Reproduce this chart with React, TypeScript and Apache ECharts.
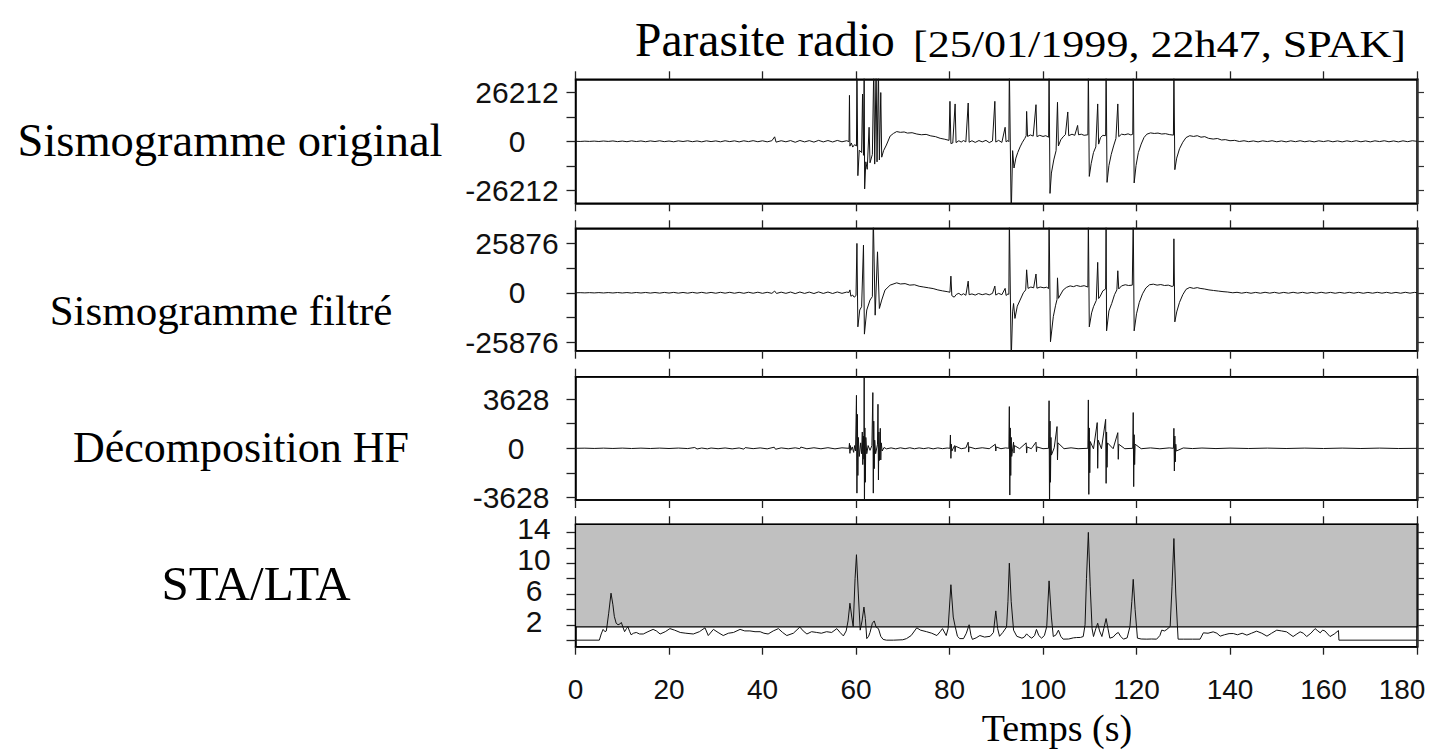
import React, { useEffect, useRef } from "react";
import * as echarts from "echarts";

// ---------- DATA ----------
const timeTicks = [0, 20, 40, 60, 80, 100, 120, 140, 160, 180];

const panelNames = ["Sismogramme original", "Sismogramme filtré", "Décomposition HF", "STA/LTA"];

const originalLabels = [-26212, 0, 26212];
const originalTicks = [-26212, -13106, 0, 13106, 26212];
const filteredLabels = [-25876, 0, 25876];
const filteredTicks = [-25876, -12938, 0, 12938, 25876];
const hfLabels = [-3628, 0, 3628];
const hfTicks = [-3628, -1814, 0, 1814, 3628];
const staLabels = [2, 6, 10, 14];
const staTicks = [0, 2, 4, 6, 8, 10, 12, 14];

const staThreshold = 1.73;
const staTop = 15.05;

// [time (s), amplitude]
const originalTrace: [number, number][] = [
  [0, 0], [1, -90], [2, 70], [3, -60], [4, 110], [5, -100], [6, 160], [7, -70], [8, 190], [9, -170],
  [10, 130], [11, -210], [12, 240], [13, -140], [14, 190], [15, -230], [16, 210], [17, -130], [18, 280], [19, -190],
  [20, 160], [21, -250], [22, 230], [23, -110], [24, 270], [25, -210], [26, 170], [27, -290], [28, 250], [29, -150],
  [30, 210], [31, -270], [32, 290], [33, -170], [34, 250], [35, -310], [36, 270], [37, -170], [38, 330], [39, -230],
  [40, 270], [41, -290], [42, 310], [42.6, 2400], [42.9, -450], [44, 310], [45, -260], [46, 390], [47, -520], [48, 440],
  [49, -310], [50, 360], [51, -430], [52, 480], [53, -320], [54, 410], [55, -360], [56, 460], [57, -260], [58, 310], [58.5, -150],
  [58.6, 24600], [58.7, -2600], [59.0, -900], [59.3, -3100], [59.7, -1800], [60.1, -2500], [60.2, 40000], [60.4, -18400],
  [60.7, -4800], [61.2, -6000], [61.4, 25300], [61.6, -7500], [61.75, 40000], [61.85, -25500], [62.1, -11000], [62.4, -15000],
  [62.8, 7500], [63.0, -11500], [63.5, -7000], [63.8, 40000], [64.0, -12200], [64.3, 40000], [64.5, -11000], [64.8, 40000],
  [65.0, -10000], [65.3, 26100], [65.5, -8500], [65.9, -5000], [66.5, -2000], [67.3, 2800], [68, 4200], [68.7, 5200],
  [69.5, 4800], [70.3, 5000], [71, 4400], [72, 4600], [73, 3900], [74, 3500], [75, 3700], [76, 2900], [77, 2500],
  [78, 1600], [79, 1100], [79.9, 500],
  [80.1, 21400], [80.3, -1200], [80.7, -900], [81.2, 20000], [81.4, -700], [82, 300], [82.5, -400], [83, 400], [83.5, -300],
  [84.0, 20500], [84.2, -500], [84.8, 300], [85.5, -600], [86.3, 400], [87, -300], [87.8, 500], [88.5, -700], [89.2, 200],
  [89.7, 21400], [89.9, -400], [90.5, 500], [91.2, -600], [91.9, 7500], [92.1, -300], [92.5, 400], [92.7, -200],
  [92.8, 40000], [93.2, -40000], [93.5, -5000], [93.8, -14300], [94.2, -9000], [94.6, -6000], [95.1, -3000], [95.6, -500],
  [96.1, 1500], [96.4, 3000], [96.5, 16000], [96.7, 2600], [97.3, 3400], [97.9, 2800], [98.5, 19600], [98.7, 2500],
  [99.3, 3200], [100, 2600], [100.6, 3000], [101.2, 2200],
  [101.3, 40000], [101.5, -27900], [101.8, -17000], [102.3, -10000], [102.8, -5000], [103.1, 20900], [103.3, -2500],
  [103.8, 800], [104.3, 2400], [104.8, 3600], [105.3, 15700], [105.5, 3000], [106.2, 3800], [106.8, 3200], [107.4, 8500],
  [107.6, 3500], [108.2, 3800], [108.8, 3200], [109.6, 3500],
  [109.7, 40000], [109.9, -18800], [110.3, -12000], [110.8, -6000], [111.3, -3000], [111.7, 20000], [111.9, -1500],
  [112.3, 2000], [112.8, 3200], [113.4, 3000],
  [113.5, 40000], [113.7, -22000], [114.1, -13000], [114.6, -7000], [115.1, -2500], [115.6, 1500], [116.0, 20000],
  [116.2, 2500], [116.8, 3800], [117.5, 3500], [118.2, 4000], [118.8, 3400], [119.2, 3800],
  [119.3, 40000], [119.5, -22300], [119.9, -13000], [120.4, -6000], [121, -1500], [121.6, 2000], [122.2, 3800], [123, 4500],
  [123.8, 4200], [124.6, 4400], [125.4, 3900], [126.2, 4100], [127, 3600], [127.9, 3300],
  [128.0, 40000], [128.2, -15200], [128.6, -9000], [129.2, -4000], [129.9, -500], [130.6, 2000], [131.4, 3000], [132.2, 2600],
  [133, 3000], [133.8, 2200], [134.6, 2500], [135.4, 1600], [136.4, 1200], [137.3, 1500], [138.2, 700], [139, 900],
  [140, 300], [141, 500], [142, -100], [143, 300], [144, -200], [145, 200], [146, -300], [147, 250], [148, -150],
  [149, 300], [150, -250], [151, 200], [152, -300], [153, 250], [154, -200], [155, 300], [156, -250], [157, 200],
  [158, -300], [159, 250], [160, -150], [161, 300], [162, -250], [163, 200], [164, -300], [165, 250], [166, -200],
  [167, 300], [168, -250], [169, 200], [170, -300], [171, 250], [172, -150], [173, 300], [174, -250], [175, 200],
  [176, -300], [177, 250], [178, -200], [179, 300], [180, 0],
];

const filteredTrace: [number, number][] = [
  [0, 0], [1, 60], [2, -50], [3, 80], [4, -70], [5, 100], [6, -90], [7, 120], [8, -100], [9, 140], [10, -110],
  [11, 130], [12, -150], [13, 160], [14, -120], [15, 170], [16, -160], [17, 140], [18, -180], [19, 190], [20, -150],
  [21, 200], [22, -190], [23, 170], [24, -210], [25, 220], [26, -180], [27, 230], [28, -220], [29, 200], [30, -240],
  [31, 250], [32, -210], [33, 260], [34, -250], [35, 230], [36, -270], [37, 280], [38, -240], [39, 290], [40, -280],
  [41, 260], [42, -300], [42.6, 900], [43, -350], [44, 320], [45, -300], [46, 380], [47, -420], [48, 400], [49, -330],
  [50, 360], [51, -400], [52, 450], [53, -350], [54, 400], [55, -380], [56, 420], [57, -300], [58, 350], [58.5, 200],
  [58.7, 1500], [58.9, -1800], [59.3, -1200], [59.6, -2300], [60.0, -1500], [60.2, 25800], [60.4, -17800], [60.8, -9000],
  [61.2, -7300], [61.6, 24900], [61.8, -21600], [62.3, -9000], [63.0, -3800], [63.5, -2000], [63.7, 40000], [64.1, -11700],
  [64.6, 21400], [65.0, -8200], [65.5, -3800], [66.2, 1400], [67.3, 4000], [68.7, 5200], [69.5, 4600], [70.5, 4800],
  [71.5, 4000], [72.5, 4200], [73.5, 3400], [74.5, 3000], [75.5, 2600], [76.5, 2200], [77.5, 1500], [78.5, 1000],
  [79.5, 600], [80.1, 300], [80.3, 8700], [80.5, -1500], [81.0, -2300], [81.5, -800], [82, -300], [82.5, -1200],
  [83, -500], [83.5, -1300], [84.0, 6100], [84.2, -1000], [84.8, -600], [85.5, -1200], [86.2, -400], [87, -1000],
  [87.8, -500], [88.5, -1100], [89.2, -300], [89.7, 3500], [89.9, -1200], [90.5, -300], [91.2, -1000], [91.9, 2300],
  [92.1, -1400], [92.5, -600], [92.7, -800],
  [92.8, 40000], [93.2, -35000], [93.5, -10000], [93.7, -5600], [94.0, -13400], [94.5, -7000], [95.1, -3800], [95.8, 0],
  [96.3, 1500], [96.5, 12000], [96.8, 2300], [97.4, 3000], [98, 2600], [98.5, 9800], [98.7, 2400], [99.4, 3000],
  [100.2, 2600], [100.8, 2900], [101.2, 2200],
  [101.3, 40000], [101.6, -25600], [102.2, -12500], [102.7, -6500], [103.0, -3500], [103.1, 7800], [103.3, -2900],
  [104.3, 1400], [105, 2800], [105.8, 3600], [106.5, 3200], [107.2, 3800], [108, 3300], [108.8, 3700], [109.6, 3000],
  [109.7, 40000], [109.9, -17800], [110.4, -10500], [110.8, -7300], [111.4, -4000], [111.7, 15900], [111.9, -3000],
  [112.2, -2000], [112.8, 1000], [113.4, 2000],
  [113.5, 40000], [113.6, -19900], [114.1, -9500], [114.7, -5600], [115.3, -1000], [115.8, 1500], [116.0, 11500],
  [116.2, 2000], [116.8, 3600], [117.6, 4200], [118.3, 3800], [119.1, 4000],
  [119.3, 40000], [119.5, -19900], [120, -11000], [120.6, -5000], [121.3, -500], [122, 2500], [122.8, 4200], [123.6, 4500],
  [124.4, 4000], [125.2, 4300], [126, 3800], [126.8, 4000], [127.6, 3300], [127.9, 3600],
  [128.0, 28200], [128.2, -15200], [128.6, -10000], [129.2, -5000], [129.9, -1000], [130.6, 1800], [131.4, 2800],
  [132.2, 2300], [133, 2700], [133.6, 2300], [134.5, 2000], [135.5, 1500], [136.5, 1200], [137.5, 900], [138.5, 600],
  [139.5, 400], [140.6, 0], [141.5, 250], [142.5, -200], [143.5, 220], [144.5, -250], [145.5, 200], [146.5, -230],
  [147.5, 260], [148.5, -200], [149.5, 240], [150.5, -260], [151.5, 200], [152.5, -220], [153.5, 250], [154.5, -200],
  [155.5, 230], [156.5, -250], [157.5, 210], [158.5, -240], [159.5, 260], [160.5, -200], [161.5, 220], [162.5, -250],
  [163.5, 200], [164.5, -230], [165.5, 250], [166.5, -210], [167.5, 240], [168.5, -260], [169.5, 200], [170.5, -220],
  [171.5, 250], [172.5, -200], [173.5, 230], [174.5, -250], [175.5, 210], [176.5, -240], [177.5, 260], [178.5, -200],
  [179.5, 220], [180, 0],
];

const hfTrace: [number, number][] = [
  [0, 0], [2, 10], [4, -10], [6, 12], [8, -12], [10, 15], [12, -15], [14, 12], [16, -15], [18, 15], [20, -15],
  [22, 18], [24, -20], [25.5, 60], [26, -50], [27, 20], [28.2, -40], [29, 20], [30.5, -30], [32, 25], [33.5, -40],
  [35, 25], [36, -60], [36.3, 50], [38, -25], [39.5, 30], [41, -40], [42.5, 80], [42.8, -70], [44, 30], [45.5, -35],
  [47, 35], [48, -30], [48.2, 90], [49.5, -35], [51, 40], [52.5, -35], [54, 45], [55.5, -40], [57, 35], [58.5, 0],
  [58.6, 370], [58.7, -370], [58.8, 200], [58.9, -150], [59.2, 100], [59.5, -300], [59.7, 200], [59.9, -200],
  [60.1, 3900], [60.2, -3300], [60.3, 2500], [60.4, -2000], [60.5, 800], [60.7, -600], [61.0, 400], [61.2, -400],
  [61.35, 1200], [61.45, -1200], [61.6, 900], [61.7, -800], [61.75, 6000], [61.8, -5000], [61.9, 1500], [62.0, -2500],
  [62.1, 800], [62.3, -400], [62.6, 200], [63.0, -150], [63.4, 200], [63.6, 4100], [63.7, -3300], [63.8, 2000],
  [63.9, -1500], [64.0, 600], [64.2, -400], [64.6, 300], [64.7, 3240], [64.8, -2330], [64.9, 1200], [65.0, -900],
  [65.2, 1470], [65.3, -860], [65.4, 400], [65.6, -200], [66, 60], [66.5, -40], [67.5, 30], [68.5, -40],
  [69.5, 35], [70.5, -30], [71.5, 40], [72.5, -35], [73.5, 30], [74.5, -25], [75.5, 35], [76.5, -40], [77.5, 30],
  [78.5, -25], [79.5, 20], [80.1, 0], [80.2, 980], [80.3, -740], [80.4, 300], [80.5, -200], [81.1, 200], [81.2, -250],
  [81.3, 150], [82.5, -30], [83.5, 30], [84.0, 450], [84.1, -280], [84.2, 100], [85.5, -30], [87, 40], [88.5, -30],
  [89.8, 300], [89.9, -200], [90, 100], [91, -30], [92, 30], [92.7, 0],
  [92.8, 3070], [92.9, -3440], [93.0, 1500], [93.1, -2000], [93.2, 800], [93.3, -600], [93.7, 450], [93.8, -350],
  [93.9, 200], [95, -30], [96.4, 400], [96.5, -350], [96.6, 100], [97.5, -30], [98.5, 450], [98.6, -250], [98.7, 100],
  [100, -30], [101.2, 0],
  [101.3, 3500], [101.4, -5000], [101.5, 2000], [101.6, -2500], [101.7, 800], [101.8, -500], [102.4, 40],
  [103.0, 1600], [103.1, -860], [103.2, 400], [104.5, -30], [106, 35], [107.5, -30], [109.6, 0],
  [109.7, 3560], [109.8, -3390], [109.9, 1500], [110.0, -1800], [110.1, 500], [110.8, -40], [111.6, 1890],
  [111.7, -1470], [111.8, 600], [112.5, -35], [113.4, 2130], [113.5, -2580], [113.6, 1200], [113.7, -1400],
  [113.8, 400], [115, -30], [116.0, 1150], [116.1, -810], [116.2, 300], [117.5, -30], [119.2, 0],
  [119.3, 2630], [119.4, -2820], [119.5, 1000], [119.6, -1200], [119.7, 300], [121, -30], [123, 30], [125, -35],
  [127, 30], [127.9, 0],
  [128.0, 1470], [128.1, -1670], [128.2, 900], [128.3, -1000], [128.4, 300], [128.5, -200], [130, 25], [132, -20],
  [134, 20], [137, -20], [140, 15], [144, -15], [148, 15], [152, -15], [156, 15], [160, -15], [164, 15], [168, -15],
  [172, 15], [176, -15], [180, 0],
];

const staLtaTrace: [number, number][] = [
  [0, 0], [5.1, 0], [5.5, 0.8], [5.9, 1.4], [6.3, 1.1], [6.6, 1.2], [7.1, 3.5], [7.6, 6.1], [8.0, 4.6], [8.3, 3.1],
  [8.7, 2.2], [9.1, 2.0], [9.5, 2.1], [9.8, 2.3], [10.2, 1.6], [10.5, 1.1], [10.9, 1.5], [11.2, 1.75], [11.6, 1.1],
  [11.9, 0.7], [12.4, 0.9], [13.0, 1.0], [13.7, 0.8], [14.5, 0.8], [15.5, 1.1], [16.6, 1.4], [17.3, 1.2], [18.1, 0.8],
  [19.2, 1.1], [20.2, 1.5], [21.2, 1.3], [22.4, 1.0], [23.6, 0.9], [25.2, 0.8], [26.5, 1.1], [27.7, 1.6], [28.4, 0.6],
  [29.5, 1.4], [30.5, 1.0], [31.6, 0.6], [32.7, 0.9], [33.8, 1.0], [35.2, 1.4], [36.2, 1.2], [37.3, 1.2], [38.4, 1.1],
  [39.5, 1.1], [40.3, 0.9], [41.2, 0.8], [42.3, 1.2], [43.4, 1.5], [44.3, 1.0], [45.2, 0.6], [46.6, 0.9], [48.0, 1.7],
  [48.7, 1.2], [49.5, 0.8], [50.5, 1.1], [51.6, 1.0], [52.6, 0.9], [53.7, 1.1], [54.8, 1.0], [55.9, 1.5], [56.6, 1.0],
  [57.3, 0.55], [57.9, 1.2], [58.3, 2.5], [58.7, 4.8], [59.1, 3.0], [59.4, 1.75], [59.8, 8.0], [60.1, 11.1], [60.5, 6.0],
  [60.9, 1.3], [61.3, 2.5], [61.7, 4.3], [62.0, 2.8], [62.3, 0.2], [62.7, 0.5], [63.0, 1.0], [63.5, 2.2], [63.9, 2.5],
  [64.3, 1.7], [64.8, 1.5], [65.3, 0.5], [65.8, 0.1], [66.5, 0.0], [68.0, 0.0], [70.0, 0.05], [70.8, 0.2], [71.8, 0.6],
  [73.0, 1.6], [73.8, 1.3], [75.1, 1.1], [76.2, 0.9], [77.3, 0.6], [78.0, 1.1], [78.5, 1.5], [79.3, 0.6], [79.7, 1.5],
  [80.3, 7.2], [80.8, 3.0], [81.2, 1.8], [81.7, 0.5], [82.2, 0.2], [83.0, 0.2], [83.6, 0.9], [84.2, 2.0], [84.6, 0.6],
  [84.9, 0.1], [85.7, 0.3], [86.5, 0.6], [87.5, 0.4], [88.7, 0.5], [89.4, 1.0], [89.9, 3.8], [90.3, 1.5], [90.7, 0.5],
  [91.4, 1.0], [92.2, 1.7], [92.5, 5.0], [92.8, 10.0], [93.2, 5.0], [93.7, 1.3], [94.4, 0.5], [95.5, 0.26], [96.0, 0.4],
  [96.5, 0.82], [97.0, 0.5], [97.6, 0.26], [98.2, 0.6], [98.6, 1.4], [99.1, 0.6], [99.7, 0.26], [100.3, 0.6],
  [100.8, 1.77], [101.3, 7.7], [101.8, 3.0], [102.2, 0.47], [102.8, 0.7], [103.3, 1.3], [103.8, 0.5], [104.3, 0.13],
  [105.5, 0.15], [106.5, 0.3], [107.2, 0.34], [108.0, 0.35], [108.6, 0.47], [109.0, 2.0], [109.3, 8.0], [109.7, 14.0],
  [110.1, 7.0], [110.5, 1.5], [110.8, 0.47], [111.3, 1.5], [111.7, 2.2], [112.1, 1.2], [112.6, 0.47], [113.0, 1.5],
  [113.5, 2.8], [113.9, 1.5], [114.3, 0.26], [115.0, 0.4], [115.6, 0.8], [116.1, 1.0], [116.6, 0.5], [117.2, 0.13],
  [118.0, 0.3], [118.6, 1.77], [119.0, 5.0], [119.3, 7.9], [119.7, 4.0], [120.2, 0.26], [121.0, 0.15], [122.2, 0.13],
  [123.2, 0.15], [124.3, 0.13], [125.0, 0.6], [125.4, 1.3], [126.0, 1.2], [126.5, 1.4], [127.2, 1.77], [127.6, 7.0],
  [128.0, 13.2], [128.4, 6.0], [128.9, 0.13], [130.0, 0.13], [132.0, 0.13], [133.6, 0.13], [134.3, 0.95], [135.3, 0.9],
  [136.4, 1.08], [137.2, 0.9], [137.9, 0.52], [138.8, 0.7], [139.8, 0.85], [140.7, 0.86], [141.6, 0.7], [142.6, 0.9],
  [143.6, 0.65], [144.6, 0.9], [145.7, 1.17], [146.8, 0.9], [147.9, 0.52], [148.9, 0.9], [150.0, 1.3], [151.0, 1.2],
  [152.1, 1.08], [153.5, 0.47], [154.3, 0.8], [155.0, 1.08], [155.7, 0.9], [156.4, 0.47], [157.3, 0.9], [158.2, 1.5],
  [158.8, 1.2], [159.3, 0.95], [159.8, 1.3], [160.3, 1.2], [160.9, 0.8], [161.4, 0.47], [162.3, 0.8], [163.2, 1.25],
  [163.3, 0], [180, 0],
];

const panelRanges: [number, number][] = [
  [-33200, 33200],
  [-30270, 33700],
  [-3805, 5270],
  [-0.85, staTop],
];

// ---------- LAYOUT ----------
const GRID_LEFT = 575.5;
const GRID_WIDTH = 841.5;
const gridBoxes = [
  { top: 79.3, height: 124 },
  { top: 228.3, height: 122.4 },
  { top: 376.7, height: 123.3 },
  { top: 524.3, height: 122.4 },
];
const yLabelMargins = [58.5, 58.5, 59.5, 41.5];

const TICK_FONT = "Liberation Sans, Arial, sans-serif";
const Y_TICK_SIZE = 30;
const X_TICK_SIZE = 28;
const SERIF = "Liberation Serif, Times New Roman, serif";
const INK = "#111";

function buildOption() {
  const traces = [originalTrace, filteredTrace, hfTrace, staLtaTrace];
  const tickSets = [originalTicks, filteredTicks, hfTicks, staTicks];
  const labelSets = [originalLabels, filteredLabels, hfLabels, staLabels];

  const grid = gridBoxes.map((g) => ({
    left: GRID_LEFT,
    width: GRID_WIDTH,
    top: g.top,
    height: g.height,
    show: true,
    borderColor: "#000",
    borderWidth: 1.5,
    backgroundColor: "transparent",
    containLabel: false,
    outerBoundsMode: "none",
  }));

  const yRich = { fontSize: Y_TICK_SIZE, fontFamily: TICK_FONT, color: INK };
  const xRich = { fontSize: X_TICK_SIZE, fontFamily: TICK_FONT, color: INK };

  const xAxis: any[] = [];
  const yAxis: any[] = [];
  gridBoxes.forEach((_, i) => {
    const isLast = i === 3;
    const common = {
      gridIndex: i,
      type: "value",
      min: timeTicks[0],
      max: timeTicks[timeTicks.length - 1],
      interval: 20,
      splitLine: { show: false },
      axisLine: { show: true, onZero: false, lineStyle: { color: "#000", width: 1.5 } },
      axisTick: { show: true, inside: false, length: 8, lineStyle: { color: "#222", width: 1.3 } },
    };
    xAxis.push({
      ...common,
      position: "bottom",
      axisLabel: isLast
        ? {
            show: true,
            margin: 29,
            fontSize: X_TICK_SIZE,
            fontFamily: TICK_FONT,
            color: INK,
            formatter: (v: number) => (v === 180 ? `{m|${v}}` : String(v)),
            rich: { m: { ...xRich, padding: [0, 30, 0, 0] } },
          }
        : { show: false },
    });
    xAxis.push({ ...common, position: "top", axisLabel: { show: false } });

    const [mn, mx] = panelRanges[i];
    yAxis.push({
      gridIndex: i,
      type: "value",
      position: "left",
      min: mn,
      max: mx,
      splitLine: { show: false },
      axisLine: { show: true, onZero: false, lineStyle: { color: "#000", width: 1.5 } },
      axisTick: { show: true, inside: false, length: 9, customValues: tickSets[i], lineStyle: { color: "#222", width: 1.3 } },
      axisLabel: {
        show: true,
        customValues: labelSets[i],
        align: "center",
        margin: yLabelMargins[i],
        fontSize: Y_TICK_SIZE,
        fontFamily: TICK_FONT,
        color: INK,
        padding: isLast ? [0, 0, 7, 0] : 0,
        formatter: (v: number) => (v < 0 ? `{n|${v}}` : String(v)),
        rich: { n: { ...yRich, padding: [0, 10, 0, 0] } },
      },
    });
    yAxis.push({
      gridIndex: i,
      type: "value",
      position: "right",
      min: mn,
      max: mx,
      splitLine: { show: false },
      axisLine: { show: true, onZero: false, lineStyle: { color: "#333", width: 2.5 } },
      axisTick: { show: true, inside: false, length: 7, customValues: tickSets[i], lineStyle: { color: "#333", width: 1.2 } },
      axisLabel: { show: false },
    });
  });

  const series: any[] = traces.map((data, i) => ({
    type: "line",
    xAxisIndex: i * 2,
    yAxisIndex: i * 2,
    data,
    showSymbol: false,
    symbol: "none",
    clip: true,
    silent: true,
    lineStyle: { color: INK, width: 1 },
    z: 3,
    ...(i === 3
      ? {
          markArea: {
            silent: true,
            itemStyle: { color: "#c0c0c0", borderColor: "#000", borderWidth: 1.2 },
            data: [[{ xAxis: 0, yAxis: staThreshold }, { xAxis: 180, yAxis: staTop }]],
          },
        }
      : {}),
  }));

  const leftLabels = [
    { x: 230, y: 140, size: 46.5 },
    { x: 221, y: 310, size: 43 },
    { x: 241, y: 447, size: 44 },
    { x: 256, y: 583, size: 49 },
  ];

  const centered = { align: "center", verticalAlign: "middle", textAlign: "center", textVerticalAlign: "middle" };
  const leftMiddle = { align: "left", verticalAlign: "middle", textAlign: "left", textVerticalAlign: "middle" };

  const graphic: any[] = [
    {
      type: "text",
      x: 635,
      y: 40,
      style: { text: "Parasite radio", font: `47.5px ${SERIF}`, fill: "#000", ...leftMiddle },
    },
    {
      type: "text",
      x: 913,
      y: 44,
      scaleX: 1.16,
      style: { text: "[25/01/1999, 22h47, SPAK]", font: `38px ${SERIF}`, fill: "#000", ...leftMiddle },
    },
    ...panelNames.map((name, i) => ({
      type: "text",
      x: leftLabels[i].x,
      y: leftLabels[i].y,
      style: { text: name, font: `${leftLabels[i].size}px ${SERIF}`, fill: "#000", ...centered },
    })),
    {
      type: "text",
      x: 1057,
      y: 728,
      style: { text: "Temps (s)", font: `38px ${SERIF}`, fill: "#000", ...centered },
    },
  ];

  return {
    animation: false,
    backgroundColor: "#fff",
    grid,
    xAxis,
    yAxis,
    series,
    graphic,
  };
}

export default function App() {
  const ref = useRef<HTMLDivElement>(null);
  useEffect(() => {
    if (!ref.current) return;
    const chart = echarts.init(ref.current, null, { renderer: "svg" });
    chart.setOption(buildOption() as any);
    return () => chart.dispose();
  }, []);
  return (
    <div
      ref={ref}
      style={{ position: "fixed", left: 0, top: 0, width: 1432, height: 753, background: "#fff" }}
    />
  );
}
